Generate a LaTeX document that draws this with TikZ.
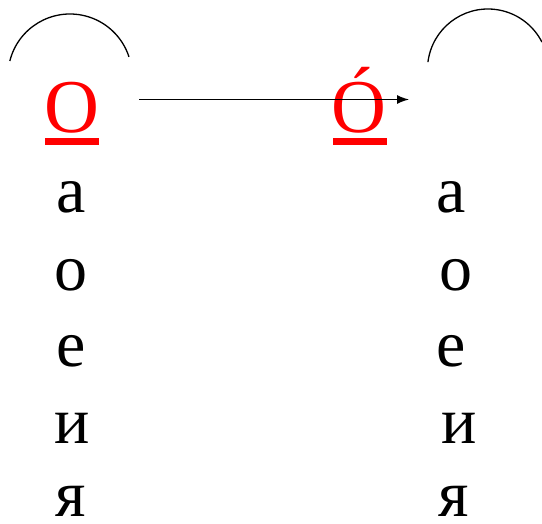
\documentclass[tikz,border=0pt]{standalone}
\usepackage{fontspec}
\setmainfont{Liberation Serif}
\usetikzlibrary{arrows.meta}
\begin{document}
\begin{tikzpicture}[x=1pt,y=-1pt,
  vowel/.style={anchor=base,inner sep=0pt,font=\fontsize{66}{66}\selectfont},
  stressed/.style={anchor=base,inner sep=0pt,text=red,font=\fontsize{76}{76}\selectfont},
  uline/.style={fill=red,draw=none},
  arcline/.style={line width=1.3pt},
  arrowline/.style={line width=1.3pt,-{Latex[length=12pt,width=9pt]}}]
\useasboundingbox (0,0) rectangle (542,524);
% arcs
\draw[arcline] (70,76) ++(-166:62) arc[start angle=-166,end angle=-18,radius=62];
\draw[arcline] (488,69.5) ++(-173:60.5) arc[start angle=-173,end angle=-27,radius=60.5];
% stressed vowels
\node[stressed] (o1) at (72,133) {О};
\node[stressed] (o2) at (359,133) {Ó};
\fill[uline] (45,138) rectangle (99,145);
\fill[uline] (333,138) rectangle (387,145);
% arrow
\coordinate (s) at (139,99.5);
\coordinate (e) at (409,99.5);
\draw[arrowline] (s) -- (e);
% left column
\node[vowel] (la) at (71,213) {а};
\node[vowel] (lo) at (71,291) {о};
\node[vowel] (le) at (71,367) {е};
\node[vowel] (li) at (72,443) {и};
\node[vowel] (lya) at (71,517) {я};
% right column
\node[vowel] (ra) at (451,213) {а};
\node[vowel] (ro) at (456,291) {о};
\node[vowel] (re) at (451,367) {е};
\node[vowel] (ri) at (459,443) {и};
\node[vowel] (rya) at (454,517) {я};
\end{tikzpicture}
\end{document}
